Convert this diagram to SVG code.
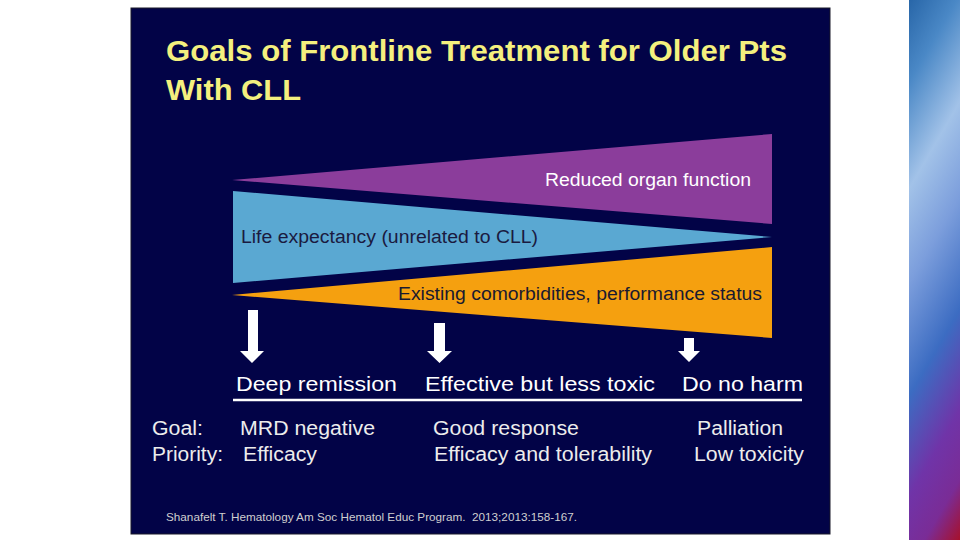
<svg xmlns="http://www.w3.org/2000/svg" width="960" height="540" viewBox="0 0 960 540">
<defs>
<linearGradient id="strip" gradientUnits="userSpaceOnUse" x1="909" y1="0" x2="1183" y2="160">
<stop offset="0" stop-color="#2866a8"/>
<stop offset="0.13" stop-color="#4a88c6"/>
<stop offset="0.30" stop-color="#a2c2e8"/>
<stop offset="0.45" stop-color="#7c9edc"/>
<stop offset="0.63" stop-color="#3c6cc2"/>
<stop offset="0.79" stop-color="#7034a8"/>
<stop offset="0.9" stop-color="#7a2c96"/>
<stop offset="1" stop-color="#a81028"/>
</linearGradient>
</defs>
<style>
.t{font-family:"Liberation Sans",Arial,sans-serif}
.title{font-family:"Liberation Sans Narrow","Liberation Sans",Arial,sans-serif;font-weight:bold;font-size:29px;fill:#f4f07e}
.band{font-size:18px}
.head{font-size:21px;fill:#ffffff}
.row{font-size:20px;fill:#ececec}
.cite{font-size:11px;fill:#cfcfcf}
.arrow{fill:#ffffff}
</style>
<rect x="0" y="0" width="960" height="540" fill="#ffffff"/>
<rect x="909" y="0" width="51" height="540" fill="url(#strip)"/>
<rect id="panel" x="131" y="8" width="699" height="526" fill="#020347" stroke="#1a1a2a" stroke-width="1"/>

<g id="title">
<text class="title" x="166" y="61" textLength="621" lengthAdjust="spacingAndGlyphs">Goals of Frontline Treatment for Older Pts</text>
<text class="title" x="166" y="100" textLength="135" lengthAdjust="spacingAndGlyphs">With CLL</text>
</g>

<g id="band-organ">
<polygon points="232,180 772,134 772,224" fill="#8b3d9b"/>
<text class="t band" x="545" y="186" fill="#ffffff" textLength="206" lengthAdjust="spacingAndGlyphs">Reduced organ function</text>
</g>
<g id="band-life">
<polygon points="233,191 772,237 233,283" fill="#5aa8d2"/>
<text class="t band" x="241" y="243" fill="#1a1a40" textLength="297" lengthAdjust="spacingAndGlyphs">Life expectancy (unrelated to CLL)</text>
</g>
<g id="band-comorb">
<polygon points="232,295 772,247 772,338" fill="#f5a00f"/>
<text class="t band" x="398" y="300" fill="#1a1a30" textLength="364" lengthAdjust="spacingAndGlyphs">Existing comorbidities, performance status</text>
</g>

<g id="connectors">
<polygon class="arrow" points="248,310 258,310 258,351 264,351 252,363 240,351 248,351"/>
<polygon class="arrow" points="434,323 445,323 445,351 452,351 439.5,363 427,351 434,351"/>
<polygon class="arrow" points="684,338 694,338 694,351 700,351 689,362 678,351 684,351"/>
<line x1="233" y1="400" x2="802" y2="400" stroke="#ffffff" stroke-width="2.5"/>
</g>

<g id="col-deep">
<text class="t head" x="236" y="391" textLength="161" lengthAdjust="spacingAndGlyphs">Deep remission</text>
<text class="t row" x="240" y="435" textLength="135" lengthAdjust="spacingAndGlyphs">MRD negative</text>
<text class="t row" x="243" y="461" textLength="74" lengthAdjust="spacingAndGlyphs">Efficacy</text>
</g>
<g id="col-effective">
<text class="t head" x="425" y="391" textLength="230" lengthAdjust="spacingAndGlyphs">Effective but less toxic</text>
<text class="t row" x="433" y="435" textLength="146" lengthAdjust="spacingAndGlyphs">Good response</text>
<text class="t row" x="434" y="461" textLength="218" lengthAdjust="spacingAndGlyphs">Efficacy and tolerability</text>
</g>
<g id="col-harm">
<text class="t head" x="682" y="391" textLength="121" lengthAdjust="spacingAndGlyphs">Do no harm</text>
<text class="t row" x="697" y="435" textLength="86" lengthAdjust="spacingAndGlyphs">Palliation</text>
<text class="t row" x="694" y="461" textLength="110" lengthAdjust="spacingAndGlyphs">Low toxicity</text>
</g>
<g id="labels">
<text class="t row" x="152" y="435" textLength="51" lengthAdjust="spacingAndGlyphs">Goal:</text>
<text class="t row" x="152" y="461" textLength="71" lengthAdjust="spacingAndGlyphs">Priority:</text>
</g>
<g id="citation">
<text class="t cite" x="166" y="521" textLength="411" lengthAdjust="spacingAndGlyphs" xml:space="preserve">Shanafelt T. Hematology Am Soc Hematol Educ Program.  2013;2013:158-167.</text>
</g>
</svg>
